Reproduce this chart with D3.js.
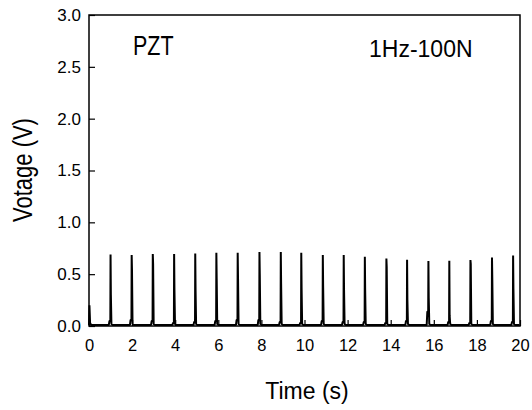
<!DOCTYPE html>
<html>
<head>
<meta charset="utf-8">
<script src="https://cdn.jsdelivr.net/npm/d3@7"></script>
<style>
  body { margin: 0; background: #fff; }
  text { font-family: "Liberation Sans", Arial, sans-serif; fill: #000; }
</style>
</head>
<body>
<div id="chart"></div>
<script>
// pulse times (s), peak voltage and the level right after the peak (V)
let pulseTimes = [1.0, 1.98, 2.96, 3.95, 4.93, 5.91, 6.9, 7.91, 8.9, 9.85, 10.85, 11.82, 12.8, 13.8, 14.76, 15.75, 16.72, 17.7, 18.7, 19.68];
let peakV = [0.69, 0.685, 0.694, 0.694, 0.70, 0.706, 0.706, 0.713, 0.713, 0.706, 0.685, 0.685, 0.668, 0.65, 0.64, 0.627, 0.63, 0.636, 0.66, 0.68];
let midV = [0.30, 0.54, 0.60, 0.35, 0.35, 0.46, 0.47, 0.50, 0.41, 0.37, 0.38, 0.35, 0.35, 0.57, 0.25, 0.27, 0.10, 0.60, 0.45, 0.36];
let preV = [0.05, 0.06, 0.05, 0.03, 0.04, 0.05, 0.06, 0.06, 0.04, 0.03, 0.05, 0.04, 0.04, 0.03, 0.05, 0.14, 0.04, 0.03, 0.05, 0.04];
let xTicks = [0, 2, 4, 6, 8, 10, 12, 14, 16, 18, 20];
let yTicks = [0.0, 0.5, 1.0, 1.5, 2.0, 2.5, 3.0];

let width = 532, height = 410;
let svg = d3.select("#chart").append("svg")
    .attr("width", width)
    .attr("height", height);

let x = d3.scaleLinear().domain([0, 20]).range([89, 520]);
let y = d3.scaleLinear().domain([0, 3]).range([326, 15]);

// build the trace: tail of a pulse at the start, then each pulse
let trace = [[0.0, 0.01], [0.02, 0.2], [0.05, 0.03], [0.1, 0.01]];
for (let i = 0; i < pulseTimes.length; i++) {
    let t = pulseTimes[i];
    trace.push([t - 0.08, 0.01]);
    trace.push([t - 0.05, preV[i]]);
    trace.push([t - 0.01, preV[i]]);
    trace.push([t, peakV[i]]);
    trace.push([t + 0.015, midV[i]]);
    trace.push([t + 0.04, 0.02]);
    trace.push([t + 0.1, 0.01]);
}
trace.push([19.98, 0.01]);

svg.append("path")
    .datum(trace)
    .attr("fill", "none")
    .attr("stroke", "#000")
    .attr("stroke-width", 2)
    .attr("stroke-linejoin", "bevel")
    .attr("d", d3.line()
        .x(function(d) { return x(d[0]); })
        .y(function(d) { return y(d[1]); }));

// frame
svg.append("rect")
    .attr("x", x(0))
    .attr("y", y(3))
    .attr("width", x(20) - x(0))
    .attr("height", y(0) - y(3))
    .attr("fill", "none")
    .attr("stroke", "#000")
    .attr("stroke-width", 1.5);

// axes with inward ticks
svg.append("g")
    .attr("transform", "translate(0," + y(0) + ")")
    .call(d3.axisBottom(x).tickValues(xTicks).tickSize(-6).tickPadding(13).tickFormat(d3.format("d")))
    .call(function(g) {
        g.select(".domain").remove();
        g.selectAll("line").attr("stroke-width", 1.2);
        g.selectAll("text").style("font-size", "16.5px");
    });

svg.append("g")
    .attr("transform", "translate(" + x(0) + ",0)")
    .call(d3.axisLeft(y).tickValues(yTicks).tickSize(-6).tickPadding(8).tickFormat(d3.format(".1f")))
    .call(function(g) {
        g.select(".domain").remove();
        g.selectAll("line").attr("stroke-width", 1.2);
        g.selectAll("text").style("font-size", "17px");
    });

// titles
svg.append("text")
    .attr("x", 307)
    .attr("y", 399)
    .attr("text-anchor", "middle")
    .style("font-size", "23px")
    .text("Time (s)");

svg.append("text")
    .attr("transform", "translate(32,170) rotate(-90) scale(1,1.25)")
    .attr("text-anchor", "middle")
    .style("font-size", "22px")
    .text("Votage (V)");

svg.append("text")
    .attr("transform", "translate(133,55) scale(1,1.25)")
    .style("font-size", "21.5px")
    .text("PZT");

svg.append("text")
    .attr("x", 369)
    .attr("y", 56.5)
    .style("font-size", "23px")
    .text("1Hz-100N");
</script>
</body>
</html>
